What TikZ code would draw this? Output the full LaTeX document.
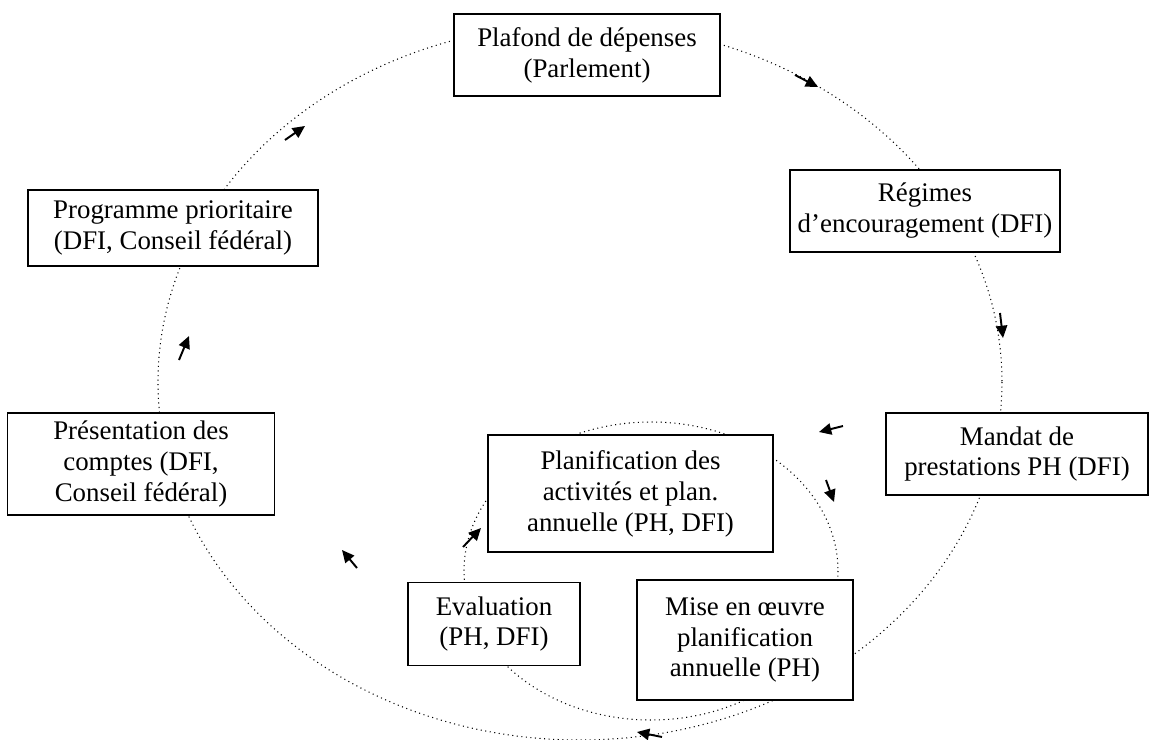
\documentclass[tikz,border=0pt]{standalone}
\usepackage{fontspec}
\setmainfont{Liberation Serif}
\usetikzlibrary{arrows.meta}
\tikzset{
  cyclebox/.style={draw,fill=white,line width=0.85pt,align=center,inner sep=0pt,
    font=\fontsize{15.3}{17.6}\selectfont},
  ring/.style={dotted,line width=0.6pt},
  turn/.style={line width=1.1pt,-{Triangle[length=7pt,width=6.5pt]}}
}
\begin{document}
\begin{tikzpicture}[x=0.02cm,y=-0.02cm]
    \useasboundingbox (0,0) rectangle (1150,740);
    % the two cycles
    \draw[ring] (580,382) ellipse [x radius=422,y radius=358];
    \draw[ring] (651,571) ellipse [x radius=187,y radius=149];
    % outer cycle
    \node[cyclebox,minimum width=5.32cm,minimum height=1.64cm] (plafond) at (587,55)
        {Plafond de dépenses\\(Parlement)};
    \node[cyclebox,minimum width=5.4cm,minimum height=1.64cm] (regimes) at (925,211)
        {Régimes\\d’encouragement (DFI)};
    \node[cyclebox,minimum width=5.24cm,minimum height=1.64cm] (mandat) at (1017,454)
        {Mandat de\\prestations PH (DFI)};
    \node[cyclebox,minimum width=5.34cm,minimum height=2.04cm] (comptes) at (141,464)
        {Présentation des\\comptes (DFI,\\Conseil fédéral)};
    \node[cyclebox,minimum width=5.8cm,minimum height=1.52cm] (programme) at (173,228)
        {Programme prioritaire\\(DFI, Conseil fédéral)};
    % inner cycle
    \node[cyclebox,minimum width=5.7cm,minimum height=2.34cm] (planif) at (630.5,493.5)
        {Planification des\\activités et plan.\\annuelle (PH, DFI)};
    \node[cyclebox,minimum width=4.32cm,minimum height=2.4cm] (mise) at (745,640)
        {Mise en œuvre\\planification\\annuelle (PH)};
    \node[cyclebox,minimum width=3.44cm,minimum height=1.66cm] (evaluation) at (494,624)
        {Evaluation\\(PH, DFI)};
    % direction marks
    \foreach \a/\b in {{285,140}/{305,126},{795,75}/{818,87},{1000,313}/{1003,338},
        {843,426}/{819,432},{826,480}/{834,502},{662,737}/{637,732},
        {357,568}/{342,550},{463,547}/{481,528},{179,360}/{189,336}}
        \draw[turn] (\a) -- (\b);
\end{tikzpicture}
\end{document}
